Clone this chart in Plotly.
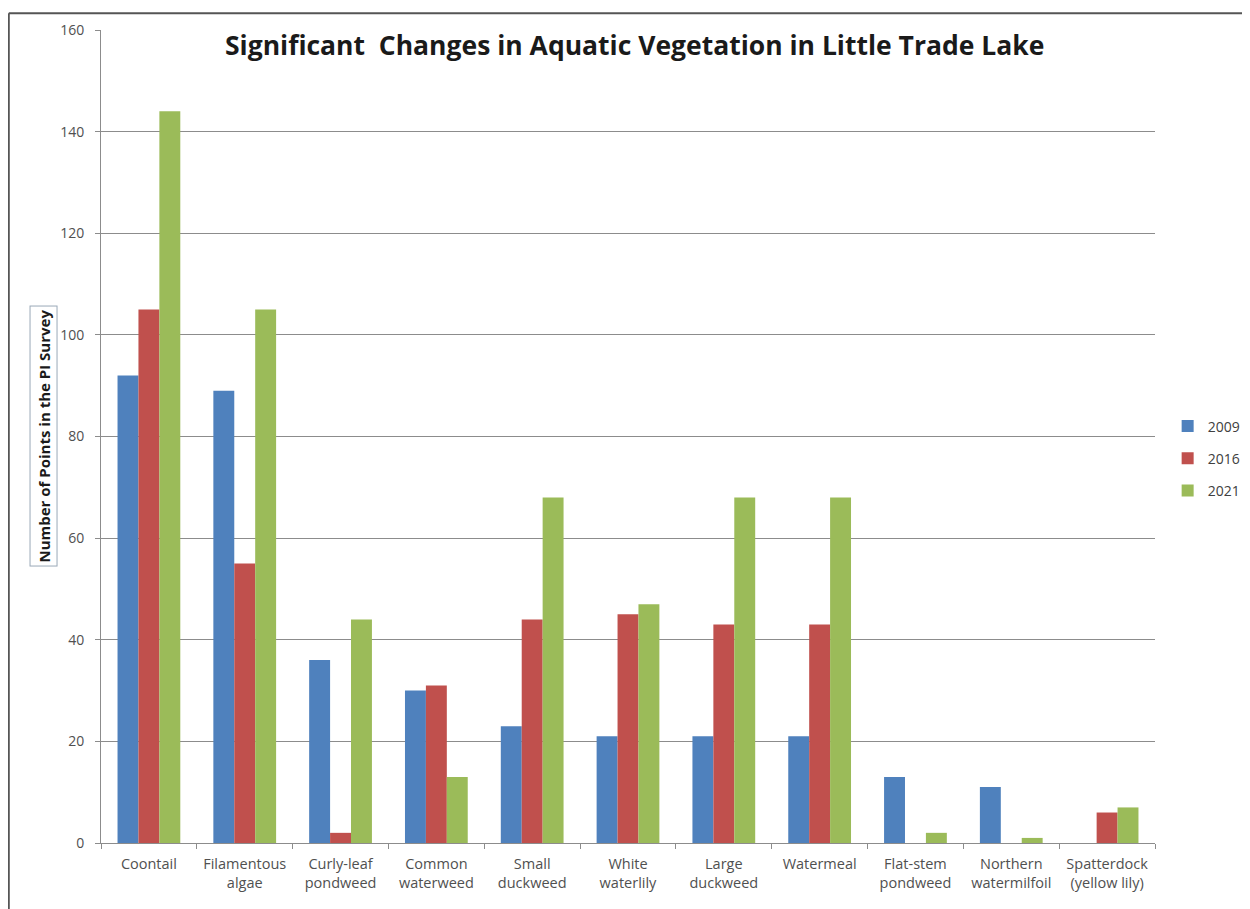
import plotly.graph_objects as go

categories = ["Coontail", "Filamentous<br>algae", "Curly-leaf<br>pondweed", "Common<br>waterweed",
              "Small<br>duckweed", "White<br>waterlily", "Large<br>duckweed", "Watermeal",
              "Flat-stem<br>pondweed", "Northern<br>watermilfoil", "Spatterdock<br>(yellow lily)"]
y2009 = [92, 89, 36, 30, 23, 21, 21, 21, 13, 11, 0]
y2016 = [105, 55, 2, 31, 44, 45, 43, 43, 0, 0, 6]
y2021 = [144, 105, 44, 13, 68, 47, 68, 68, 2, 1, 7]
series_names = ["2009", "2016", "2021"]
colors = ["#4F81BD", "#C0504D", "#9BBB59"]
y_ticks = [0, 20, 40, 60, 80, 100, 120, 140, 160]

fig = go.Figure()
for name, vals, c in zip(series_names, [y2009, y2016, y2021], colors):
    fig.add_trace(go.Bar(x=categories, y=vals, name=name, legendgroup=name,
                         marker=dict(color=c, line=dict(width=0))))

fig.update_layout(
    width=1250, height=909,
    paper_bgcolor="white", plot_bgcolor="white",
    margin=dict(l=93, r=100, t=17, b=74),
    barmode="group", bargap=0.345, bargroupgap=0,
    font=dict(family="Open Sans, Liberation Sans, sans-serif", size=12, color="#404040"),
    legend=dict(x=1.012, y=0.473, xanchor="left", yanchor="middle",
                font=dict(size=14, color="#404040"), tracegroupgap=11,
                traceorder="grouped", itemwidth=30, bgcolor="rgba(0,0,0,0)"),
    showlegend=True,
)
fig.update_xaxes(showline=True, linecolor="#8c8c8c", linewidth=1, ticks="outside",
                 tickson="boundaries", ticklen=5, tickcolor="#8c8c8c", ticklabelstandoff=8,
                 tickfont=dict(size=14.5, color="#505050"), showgrid=False)
fig.update_yaxes(range=[0, 160], tickvals=y_ticks, showline=True, linecolor="#8c8c8c",
                 linewidth=1, ticks="outside", ticklen=5, tickcolor="#8c8c8c", ticklabelstandoff=8,
                 showgrid=True, gridcolor="#8c8c8c", gridwidth=1,
                 tickfont=dict(size=14, color="#505050"), zeroline=False)

fig.add_annotation(text="<b>Significant  Changes in Aquatic Vegetation in Little Trade Lake</b>",
                   xref="paper", yref="paper", x=0.5057, y=0.982, xanchor="center", yanchor="middle",
                   showarrow=False, font=dict(size=26.5, color="#1a1a1a",
                                              family="Open Sans, Liberation Sans, sans-serif"))
fig.add_annotation(text="<b>Number of Points in the PI Survey</b>", textangle=-90,
                   xref="paper", yref="paper", x=-0.055, y=0.5, xanchor="center", yanchor="middle",
                   showarrow=False, font=dict(size=15, color="#1a1a1a"),
                   bordercolor="#9aa8b8", borderwidth=1, borderpad=3)

# outer frame lines (top and left)
fig.add_shape(type="line", xref="paper", yref="paper", x0=-0.0875, x1=1.1, y0=1.0205, y1=1.0205,
              line=dict(color="#555555", width=2))
fig.add_shape(type="line", xref="paper", yref="paper", x0=-0.0875, x1=-0.0875, y0=1.0205, y1=-0.09,
              line=dict(color="#555555", width=2))

fig.write_html("out.html")
